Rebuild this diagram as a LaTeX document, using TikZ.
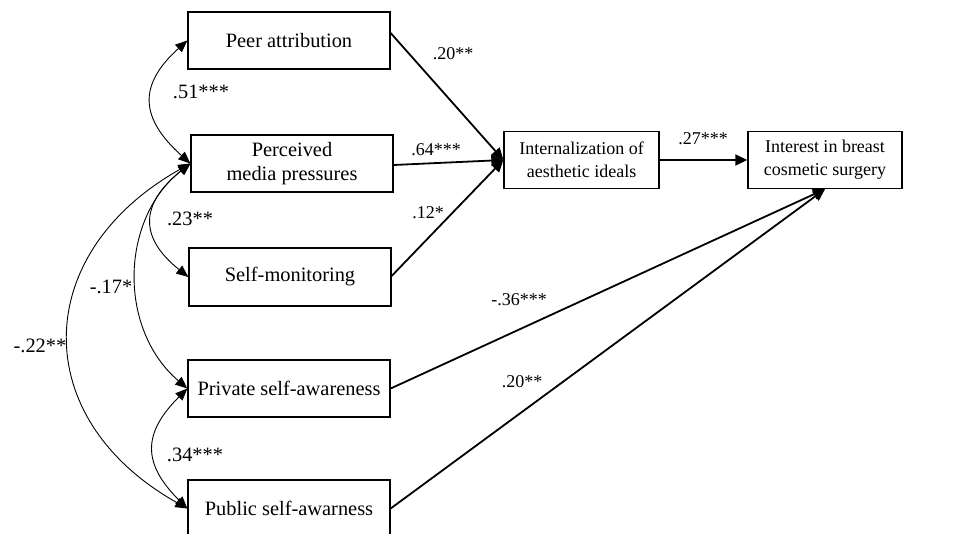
\documentclass[tikz,border=0pt]{standalone}
\usepackage{fontspec}
\setmainfont{Liberation Serif}
\usetikzlibrary{arrows.meta}
\begin{document}
\begin{tikzpicture}[x=1pt,y=-1pt,
  font=\fontsize{20.4pt}{24.5pt}\selectfont,
  varbox/.style={draw,line width=1.3pt,inner sep=0pt,align=center,minimum width=202pt,minimum height=57pt},
  outbox/.style={draw,line width=1.3pt,inner sep=0pt,align=center,minimum width=155pt,minimum height=57pt,
    font=\fontsize{18pt}{23pt}\selectfont},
  dirpath/.style={line width=1.8pt,-{Triangle[length=12pt,width=11pt]}},
  cov/.style={line width=0.9pt,{Triangle[length=12pt,width=10pt]}-{Triangle[length=12pt,width=10pt]}},
  coef/.style={inner sep=0pt},
  rcoef/.style={inner sep=0pt,font=\fontsize{18pt}{22pt}\selectfont}]
\useasboundingbox (0,0) rectangle (974,534);
% nodes
\node[varbox] (peer) at (289,40.5) {Peer attribution};
\node[varbox] (media) at (292,163.5) {Perceived\\media pressures};
\node[varbox,minimum height=58pt] (selfmon) at (290,277) {Self-monitoring};
\node[varbox] (private) at (289,388.5) {Private self-awareness};
\node[varbox] (public) at (289,508.5) {Public self-awarness};
\node[outbox] (intern) at (581.5,160) {Internalization of\\aesthetic ideals};
\node[outbox,minimum width=154pt] (interest) at (825,160) {Interest in breast\\cosmetic surgery};
% directed paths
\draw[dirpath] ([yshift=7.5pt]peer.east) -- (intern.west);
\draw[dirpath] ([yshift=-1.5pt]media.east) -- (intern.west);
\draw[dirpath] ([yshift=1pt]selfmon.east) -- (intern.west);
\draw[dirpath] (intern.east) -- (interest.west);
\draw[dirpath] (private.east) -- (interest.south);
\draw[dirpath] (public.east) -- (interest.south);
% covariances
\draw[cov] (peer.west) .. controls +(-50,45) and +(-50,-45) .. (media.west);
\draw[cov] (media.west) .. controls +(-50,40) and +(-50,-40) .. (selfmon.west);
\draw[cov] (media.west) .. controls +(-70,55) and +(-70,-60) .. (private.west);
\draw[cov] (media.west) .. controls +(-160,90) and +(-160,-90) .. (public.west);
\draw[cov] (private.west) .. controls +(-45,45) and +(-45,-45) .. (public.west);
% coefficients
\node[rcoef] (c1) at (453,54) {.20**};
\node[rcoef] (c2) at (436,150) {.64***};
\node[rcoef] (c3) at (428,213) {.12*};
\node[rcoef] (c4) at (703,139) {.27***};
\node[rcoef] (c5) at (519,300) {-.36***};
\node[rcoef] (c6) at (522,382) {.20**};
\node[coef] (c7) at (201,92) {.51***};
\node[coef] (c8) at (190,219) {.23**};
\node[coef] (c9) at (111,287) {-.17*};
\node[coef] (c10) at (40,346) {-.22**};
\node[coef] (c11) at (195,455) {.34***};
\end{tikzpicture}
\end{document}
